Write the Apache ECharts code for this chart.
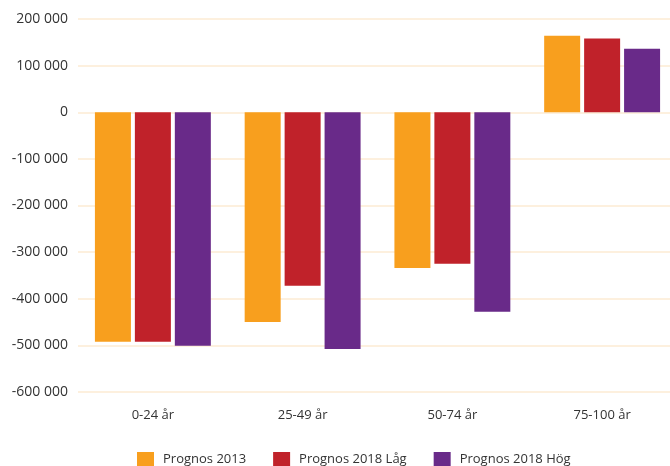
<!DOCTYPE html>
<html lang="sv">
<head>
    <meta charset="UTF-8">
    <title>Prognos</title>
    <style>
        html, body { margin: 0; padding: 0; background: #fff; }
        #main { width: 670px; height: 466px; }
    </style>
</head>
<body>
<div id="main"></div>
<script src="https://cdn.jsdelivr.net/npm/echarts@6/dist/echarts.min.js"></script>
<script>
    // data
    var categories = ['0-24 år', '25-49 år', '50-74 år', '75-100 år'];
    var seriesNames = ['Prognos 2013', 'Prognos 2018 Låg', 'Prognos 2018 Hög'];
    var prognos2013 = [-492000, -450000, -334000, 164000];
    var prognos2018Lag = [-492000, -372000, -325000, 158000];
    var prognos2018Hog = [-501000, -508000, -428000, 136000];
    var colors = ['#f89f1e', '#c0222a', '#692a89'];

    function fmt(v) {
        var s = String(Math.abs(v)).replace(/\B(?=(\d{3})+(?!\d))/g, ' ');
        return (v < 0 ? '-' : '') + s;
    }

    var chart = echarts.init(document.getElementById('main'));
    var font = '"Open Sans", sans-serif';

    var option = {
        animation: false,
        color: colors,
        textStyle: { fontFamily: font },
        // plot runs a little past the right edge, like the reference
        grid: { left: 78, width: 599, top: 19, bottom: 74, outerBoundsMode: 'none', containLabel: false },
        legend: {
            left: 137,
            top: 452,
            padding: 0,
            itemWidth: 17,
            itemHeight: 15,
            itemGap: 27,
            icon: 'rect',
            textStyle: { fontFamily: font, fontSize: 13, color: '#333', padding: [0, 0, 0, 4] },
            data: seriesNames
        },
        xAxis: {
            type: 'category',
            data: categories,
            axisLine: { show: false },
            axisTick: { show: false },
            axisLabel: { margin: 17, fontSize: 13, color: '#333', fontFamily: font }
        },
        yAxis: {
            type: 'value',
            min: -600000,
            max: 200000,
            interval: 100000,
            axisLine: { show: false },
            axisTick: { show: false },
            splitLine: { lineStyle: { color: '#fdebd3', width: 1.5 } },
            axisLabel: {
                margin: 10,
                fontSize: 14,
                color: '#333',
                fontFamily: font,
                formatter: fmt
            }
        },
        series: [
            { name: seriesNames[0], type: 'bar', data: prognos2013, barWidth: 36, barGap: '11%' },
            { name: seriesNames[1], type: 'bar', data: prognos2018Lag, barWidth: 36, barGap: '11%' },
            { name: seriesNames[2], type: 'bar', data: prognos2018Hog, barWidth: 36, barGap: '11%' }
        ]
    };

    chart.setOption(option);
</script>
</body>
</html>
